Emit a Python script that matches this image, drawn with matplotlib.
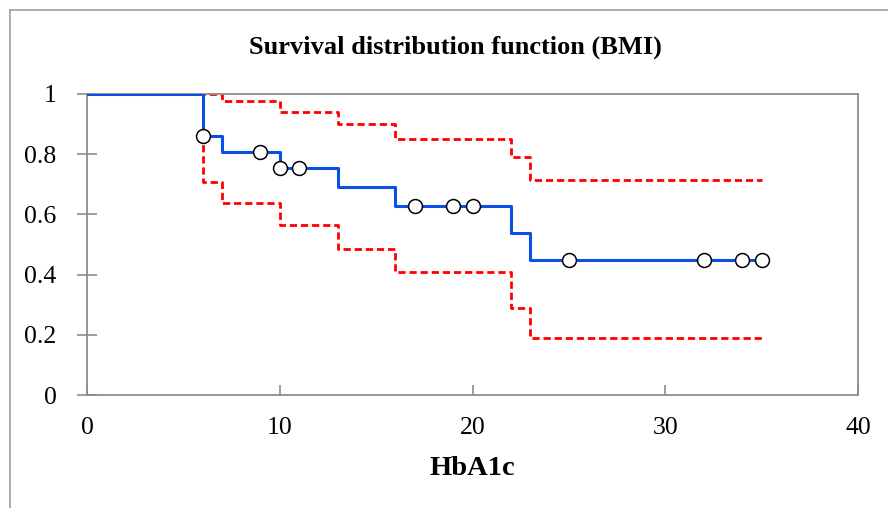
import numpy as np
import matplotlib
matplotlib.use('Agg')
import matplotlib.pyplot as plt
from matplotlib.lines import Line2D

# dados (Kaplan-Meier)
tempos = [0, 6, 7, 10, 13, 16, 22, 23, 35]
sobrev = [1.0, 0.860, 0.806, 0.753, 0.692, 0.628, 0.537, 0.450, 0.450]
sup = [1.0, 1.0, 0.977, 0.941, 0.901, 0.850, 0.792, 0.713, 0.713]
inf = [1.0, 0.709, 0.637, 0.565, 0.484, 0.408, 0.288, 0.188, 0.188]
cens_t = [6, 9, 10, 11, 17, 19, 20, 25, 32, 34, 35]
cens_s = [0.860, 0.806, 0.753, 0.753, 0.628, 0.628, 0.628, 0.450, 0.450, 0.450, 0.450]

plt.rcParams['font.family'] = ['Liberation Serif', 'DejaVu Serif']

fig = plt.figure(figsize=(8.88, 5.08), dpi=100)
ax = fig.add_axes([87/888, 1 - 395/508, 771/888, 301/508])

# moldura externa (cinza)
fig.add_artist(Line2D([10/888, 10/888], [0, 1 - 10/508], color='#a0a0a0', lw=1.2))
fig.add_artist(Line2D([10/888, 1], [1 - 10/508, 1 - 10/508], color='#a0a0a0', lw=1.2))

ax.step(tempos, sup, where='post', color='#ff0000', lw=2.0, ls=(0, (2.6, 1.4)), zorder=2)
ax.step(tempos, inf, where='post', color='#ff0000', lw=2.0, ls=(0, (2.6, 1.4)), zorder=2)
ax.step(tempos, sobrev, where='post', color='#0a50e6', lw=2.2, zorder=3)
ax.plot(cens_t, cens_s, 'o', ms=10, mfc='white', mec='black', mew=1.1, zorder=4)

ax.set_xlim(0, 40)
ax.set_ylim(0, 1)
ax.set_xticks([0, 10, 20, 30, 40])
ax.set_yticks([0, 0.2, 0.4, 0.6, 0.8, 1])
ax.set_yticklabels(['0', '0.2', '0.4', '0.6', '0.8', '1'])
for s in ax.spines.values():
    s.set_color('#8c8c8c')
    s.set_linewidth(1.3)
ax.tick_params(axis='y', direction='inout', length=14, width=1.2, color='#8c8c8c',
               labelsize=18.5, pad=15)
ax.tick_params(axis='x', direction='in', length=7, width=1.2, color='#8c8c8c',
               labelsize=18.5, pad=16)

fig.text(455/888, 1 - 47/508, 'Survival distribution function (BMI)', fontsize=19,
         fontweight='bold', ha='center', va='center')
ax.set_xlabel('HbA1c', fontsize=20.5, fontweight='bold', labelpad=12)

fig.savefig('out.png', dpi=100)
